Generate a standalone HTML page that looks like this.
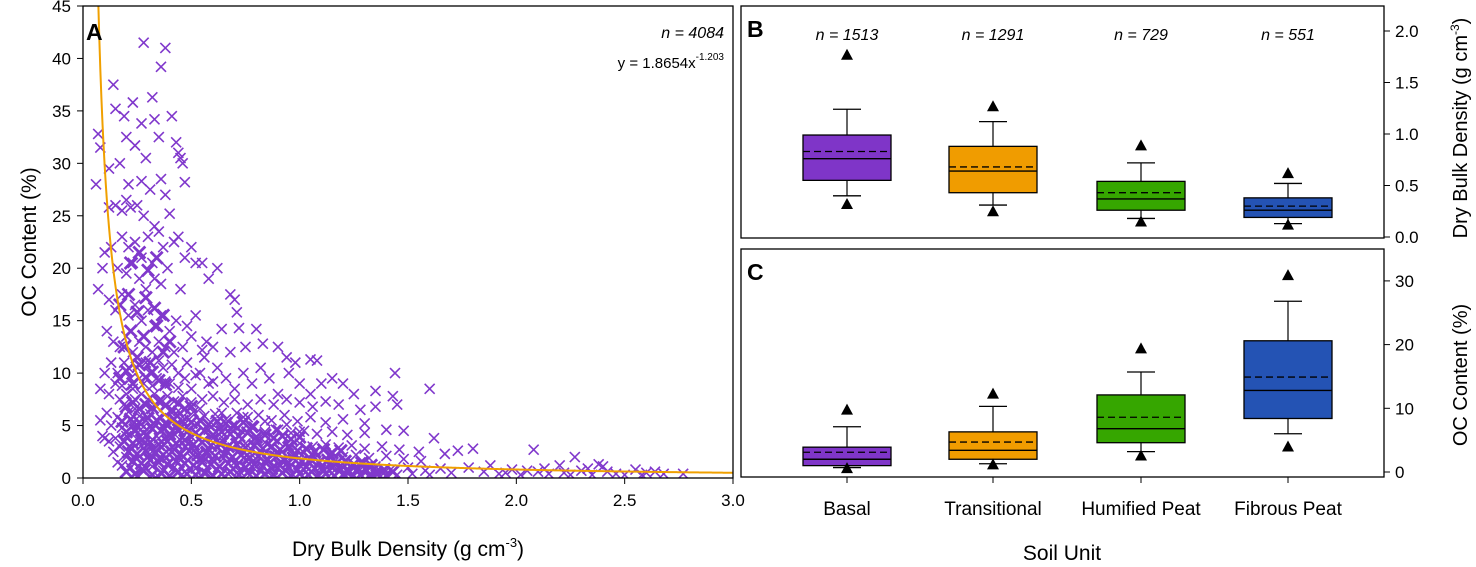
<!DOCTYPE html>
<html><head><meta charset="utf-8"><style>
html,body{margin:0;padding:0;background:#fff;}
svg{display:block;font-family:"Liberation Sans",Arial,sans-serif;}
</style></head><body>
<svg id="fig" width="1476" height="567" viewBox="0 0 1476 567" xmlns="http://www.w3.org/2000/svg"></svg>
<script>
// ---- Panel A data ----
const bdVals=[0.28,0.38,0.36,0.32,0.14,0.23,0.15,0.19,0.33,0.41,0.27,0.07,0.08,0.2,0.35,0.43,0.45,0.46,0.44,0.24,0.29,0.17,0.06,0.21,0.27,0.31,0.36,0.47,0.12,0.38,
0.12,0.15,0.18,0.2,0.22,0.25,0.28,0.33,0.35,0.4,0.42,0.44,0.5,0.55,0.62,0.1,0.13,0.18,0.21,0.24,0.27,0.3,0.32,0.37,0.39,0.16,0.2,0.23,0.26,0.29,0.33,0.36,0.45,0.52,0.58,0.68,0.7,0.07,0.09,0.47,
0.12,0.15,0.18,0.21,0.24,0.27,0.3,0.33,0.36,0.4,0.43,0.48,0.52,0.57,0.6,0.64,0.72,0.8,0.71,0.11,0.14,0.17,0.2,0.23,0.26,0.29,0.32,0.35,0.38,0.42,0.46,0.5,0.55,0.68,0.75,0.83,0.9,0.94,0.98,1.05,1.08,
0.1,0.13,0.16,0.19,0.22,0.25,0.28,0.31,0.34,0.37,0.4,0.44,0.47,0.5,0.54,0.58,0.62,0.66,0.7,0.74,0.78,0.82,0.86,0.9,0.95,1.0,1.05,1.1,1.15,1.2,1.25,1.35,1.43,1.45,1.44,1.6,
0.08,0.12,0.17,0.2,0.24,0.27,0.3,0.33,0.36,0.39,0.42,0.46,0.5,0.55,0.6,0.65,0.7,0.76,0.82,0.88,0.94,1.0,1.06,1.12,1.18,1.28,1.35,
0.15,0.18,0.21,0.23,0.26,0.29,0.32,0.35,0.38,0.41,0.44,0.48,0.52,0.56,0.6,
0.11,0.16,0.21,0.26,0.31,0.36,0.41,0.46,0.51,0.56,0.61,0.66,0.71,0.76,0.81,0.87,0.93,0.99,1.05,1.12,1.2,1.3,
0.13,0.18,0.23,0.28,0.33,0.38,0.43,0.48,0.53,0.58,0.63,0.68,0.73,0.78,0.84,0.9,0.96,1.02,1.08,1.15,1.22,1.3,1.4,1.48,
0.15,0.2,0.25,0.3,0.35,0.4,0.45,0.5,0.55,0.6,0.65,0.7,0.75,0.8,0.85,0.9,0.95,1.0,1.06,1.12,1.18,1.24,1.3,1.38,1.46,1.55,
0.17,0.22,0.27,0.32,0.37,0.42,0.47,0.52,0.57,0.62,0.67,0.72,0.77,0.82,0.87,0.92,0.97,1.02,1.08,1.14,1.2,1.26,1.32,1.4,1.48,1.56,
0.2,0.25,0.3,0.35,0.4,0.45,0.5,0.55,0.6,0.65,0.7,0.75,0.8,0.85,0.9,0.95,1.0,1.05,1.1,1.15,1.2,1.25,1.3,1.35,1.42,1.5,1.58,1.65,
0.22,0.27,0.32,0.37,0.42,0.47,0.52,0.57,0.62,0.67,0.72,0.77,0.82,0.87,0.92,0.97,1.03,1.09,1.15,1.21,1.27,1.33,1.39,1.45,1.52,1.6,1.7,
0.08,0.09,0.1,0.12,0.14,0.16,0.18,0.25,0.35,0.45,0.55,0.65,
0.24,0.29,0.34,0.39,0.44,0.49,0.54,0.59,0.64,0.69,0.74,0.79,0.84,0.89,0.94,0.99,1.04,1.1,1.16,1.22,1.28,1.34,
0.19,0.24,0.29,0.34,0.39,0.44,0.49,0.54,0.59,0.64,0.69,0.74,0.79,0.84,0.89,0.94,1.0,
1.62,1.67,1.73,1.8,1.78,1.85,1.92,1.98,2.02,2.08,2.1,2.15,2.2,2.22,2.27,2.3,2.35,2.38,2.42,2.46,2.5,2.55,2.6,2.64,2.68,2.77,1.88,1.95,2.05,2.13,2.25,2.33,2.4,2.58];
const ocVals=[41.5,41,39.2,36.3,37.5,35.8,35.2,34.5,34.2,34.5,33.8,32.8,31.5,32.5,32.5,32,30.5,30,31,31.7,30.5,30,28,28,28.3,27.5,28.5,28.2,29.5,27,
25.8,26,25.5,26.5,25.8,26,25,24,23.5,25.2,22.5,23,22,20.5,20,21.5,22,23,22,22.5,21,23,20.5,22,20,20,19.5,20.5,19,18,19,18.5,18,20.5,19,17.5,17,18,20,21,
17,16,17.5,15.5,16.5,15,16,14.5,15.5,14,15,14.5,15.5,13,12.5,14.2,14.3,14.2,15.8,14,13,12.5,13.5,12,13,12.5,12,13,12.5,12,12.5,13.5,12.2,12,12.5,12.8,12.5,11.5,11,11.3,11.2,
10,11,10,11,9.5,10.5,9,10,9.5,10.5,9,10,9.5,8.5,10,9,10.5,9.5,8.5,10,9,10.5,9.5,8,10,9,8,9,9.5,9,8,8.3,7.8,7,10,8.5,
8.5,8,7.5,8,7.5,8,7.5,8,7.5,7.8,7.3,7.8,7.2,7.5,7.8,7.2,7.5,7,7.5,7,7.5,7.2,6.8,7.3,7,6.5,6.8,
9,8.8,10.5,8.5,9.5,11,8.8,11.2,9.2,10.8,8.6,11,9.8,11.5,9.2,
6.2,5.8,6.3,5.9,6.1,5.7,6.2,5.8,6.3,5.9,6.1,5.6,6.2,5.8,6,5.5,6,5.4,5.8,5.3,5.6,5.2,
5,4.8,5.1,4.9,5.2,4.7,5,4.8,5.1,4.6,4.9,4.7,4.5,4.8,4.4,4.6,4.3,4.5,4.2,4.4,4.1,4.3,4.6,4.5,
3.8,4,3.7,4.1,3.8,4,3.6,3.9,3.5,3.8,3.4,3.7,3.3,3.6,3.2,3.5,3.1,3.3,3,3.2,2.9,3.1,2.8,3,2.7,2.5,
3,2.8,3.1,2.9,3.2,2.7,3,2.8,2.6,2.9,2.5,2.7,2.4,2.6,2.3,2.5,2.2,2.4,2.1,2.3,2,2.2,1.9,2.1,1.8,1.6,
2,1.8,2.1,1.9,2.2,1.7,2,1.8,1.6,1.9,1.5,1.7,1.4,1.6,1.3,1.5,1.2,1.4,1.1,1.3,1,1.2,0.9,1.1,0.8,1,0.7,0.9,
1,0.8,1.1,0.7,1,0.6,0.9,0.5,0.8,0.4,0.7,0.3,0.6,0.2,0.5,0.3,0.6,0.2,0.5,0.3,0.6,0.2,0.5,0.3,0.4,0.3,0.5,
5.5,4,3.8,3.5,2.5,1.5,1.2,0.2,0.1,0.2,0.1,0.1,
4.4,3.4,2.4,1.4,4.4,3.3,2.3,1.3,3.9,2.9,1.9,0.9,3.4,2.4,1.4,2.6,1.6,0.8,1.8,0.9,1.5,0.7,
7,6.6,5.5,6.8,5.2,6.4,5.6,6.6,5.3,6.2,5.0,5.8,4.9,5.4,4.6,5.1,4.4,
3.8,2.3,2.6,2.8,1,0.6,0.4,0.8,0.3,2.7,0.6,0.4,1.2,0.5,2,0.7,0.3,1.3,0.6,0.4,0.3,0.8,0.5,0.6,0.4,0.4,1.2,0.5,0.7,0.9,0.3,0.9,1.1,0.3];
// dense core of the cloud
const bdCore=[0.18,0.22,0.26,0.3,0.34,0.38,0.42,0.46,0.5,0.54,0.58,0.62,0.66,0.7,0.74,0.78,
0.2,0.24,0.28,0.32,0.36,0.4,0.44,0.48,0.52,0.56,0.6,0.64,0.68,0.72,0.76,0.8,0.84,0.88,0.92,0.96,1.0,
0.19,0.23,0.27,0.31,0.35,0.39,0.43,0.47,0.51,0.55,0.59,0.63,0.67,0.71,0.75,0.79,0.83,0.87,0.91,0.95,0.99,1.03,1.07,1.11,1.15,1.19,
0.21,0.25,0.29,0.33,0.37,0.41,0.45,0.49,0.53,0.57,0.61,0.65,0.69,0.73,0.77,0.81,0.85,0.89,0.93,0.97,1.01,1.05,1.09,1.13,1.17,1.21,1.25,1.29,1.33,
0.23,0.27,0.31,0.35,0.39,0.43,0.47,0.51,0.55,0.59,0.63,0.67,0.71,0.75,0.79,0.83,0.87,0.91,0.95,0.99,1.03,1.07,1.11,1.15,1.19,1.23,1.27,1.31,1.35,1.39,1.43,
0.2,0.24,0.28,0.32,0.36,0.4,0.44,0.48,0.52,0.56,0.6,0.64,0.68,0.72,0.76,0.8,0.84,0.88,0.92,0.96,1.0,1.04,1.08,1.12,1.16,1.2,1.24,1.28,1.32,1.36,1.4,
0.2,0.23,0.26,0.29,0.32,0.35,0.38,0.41,0.44,0.47,0.5,
0.19,0.22,0.25,0.28,0.31,0.34,0.37,0.4,
0.17,0.2,0.23,0.26,0.29,0.32,0.35,0.38,0.17,0.21,0.25,0.29,0.33,0.37,0.22,0.26,0.3,0.34];
const ocCore=[5.4,5.6,5.3,5.7,5.5,5.2,5.6,5.4,5.3,5.5,5.1,5.4,5.2,5.0,5.3,4.9,
4.4,4.6,4.3,4.7,4.5,4.2,4.6,4.4,4.3,4.5,4.1,4.4,4.2,4.0,4.3,3.9,4.1,3.8,4.0,3.7,3.9,
3.5,3.3,3.6,3.4,3.2,3.5,3.3,3.6,3.2,3.4,3.1,3.3,3.0,3.2,2.9,3.1,2.8,3.0,2.7,2.9,2.6,2.8,2.5,2.7,2.4,2.6,
2.5,2.3,2.6,2.4,2.2,2.5,2.3,2.6,2.2,2.4,2.1,2.3,2.0,2.2,1.9,2.1,1.8,2.0,1.7,1.9,1.6,1.8,1.5,1.7,1.4,1.6,1.3,1.5,1.2,
1.6,1.4,1.7,1.5,1.3,1.6,1.4,1.2,1.5,1.3,1.1,1.4,1.2,1.0,1.3,1.1,0.9,1.2,1.0,0.8,1.1,0.9,0.7,1.0,0.8,0.6,0.9,0.7,0.5,0.8,0.6,
0.6,0.4,0.7,0.3,0.5,0.2,0.6,0.4,0.3,0.5,0.2,0.4,0.6,0.3,0.5,0.2,0.4,0.3,0.5,0.2,0.4,0.3,0.1,0.4,0.2,0.3,0.1,0.3,0.2,0.4,0.2,
6.8,7.2,6.6,7.0,6.7,7.3,6.9,6.5,7.1,6.6,6.8,
12.5,14,11.5,13.5,11,14.5,12,13,
9.5,10.2,9.0,10.8,9.6,10.1,9.3,8.9,16.5,17.5,15.8,17.2,16.2,15.5,20.5,21.5,19.8,21];
const fitA=1.8654, fitB=-1.203;
const xTicksA=[0,0.5,1,1.5,2,2.5,3], xTickLabelsA=["0.0","0.5","1.0","1.5","2.0","2.5","3.0"];
const yTicksA=[0,5,10,15,20,25,30,35,40,45];
// ---- Panels B/C data ----
const units=["Basal","Transitional","Humified Peat","Fibrous Peat"];
const unitN=["n = 1513","n = 1291","n = 729","n = 551"];
const unitColors=["#7f35c8","#f09c00","#36a600","#2453b4"];
const bdWhiskLo=[0.40,0.31,0.18,0.13], bdQ1=[0.55,0.43,0.26,0.19], bdMed=[0.76,0.64,0.37,0.26], bdMean=[0.83,0.68,0.43,0.30], bdQ3=[0.99,0.88,0.54,0.38], bdWhiskHi=[1.24,1.12,0.72,0.52], bdOutLo=[0.32,0.25,0.15,0.12], bdOutHi=[1.77,1.27,0.89,0.62];
const ocWhiskLo=[0.7,1.3,3.2,6.0], ocQ1=[1.0,2.0,4.6,8.4], ocMed=[2.0,3.4,6.8,12.8], ocMean=[3.1,4.7,8.6,14.9], ocQ3=[3.9,6.3,12.1,20.6], ocWhiskHi=[7.1,10.3,15.7,26.8], ocOutLo=[0.6,1.2,2.6,4.0], ocOutHi=[9.8,12.3,19.4,30.9];
const yTicksB=[0,0.5,1,1.5,2], yTickLabelsB=["0.0","0.5","1.0","1.5","2.0"];
const yTicksC=[0,10,20,30];

const NS="http://www.w3.org/2000/svg", svg=document.getElementById('fig');
function mk(tag,attrs,parent){const e=document.createElementNS(NS,tag);for(const k in attrs)e.setAttribute(k,attrs[k]);(parent||svg).appendChild(e);return e;}
function txt(s,attrs,parent){const e=mk('text',attrs,parent);e.textContent=s;return e;}

// Panel A scales
const AX0=83,AX1=733,AY0=478,AY1=6;
const xA=v=>AX0+v/3*(AX1-AX0), yA=v=>AY0-v/45*(AY0-AY1);
const gA=mk('g',{});


const clip=mk('clipPath',{id:'clipA'});mk('rect',{x:AX0,y:AY1,width:AX1-AX0,height:AY0-AY1},clip);
const pts=mk('g',{'clip-path':'url(#clipA)',stroke:'#8038cc',fill:'none'},gA);


function drawPts(bx,oy,r,sw){
  for(let i=0;i<bx.length;i++){
    const cx=xA(bx[i]),cy=yA(oy[i]);
    const p=mk('path',{d:`M${cx-r},${cy-r}L${cx+r},${cy+r}M${cx-r},${cy+r}L${cx+r},${cy-r}`,'stroke-width':sw},pts);
    
    
  }
}
drawPts(bdVals,ocVals,5,1.6);
drawPts(bdCore,ocCore,6,2.8);
let d='';for(let x=0.055;x<=3.0001;x+=0.005){const y=fitA*Math.pow(x,fitB);d+=(d?'L':'M')+xA(x).toFixed(2)+','+yA(y).toFixed(2);}
const fit=mk('path',{d:d,stroke:'#f0a000','stroke-width':'2',fill:'none','clip-path':'url(#clipA)'},gA);


const frA=mk('rect',{x:AX0,y:AY1,width:AX1-AX0,height:AY0-AY1,fill:'none',stroke:'#000','stroke-width':'1.3'},gA);


xTicksA.forEach((v,i)=>{const x=xA(v);mk('line',{x1:x,x2:x,y1:AY0,y2:AY0+6,stroke:'#000'},gA);
  const t=txt(xTickLabelsA[i],{x:x,y:AY0+28,'font-size':'17','text-anchor':'middle'},gA);
  });
yTicksA.forEach(v=>{const y=yA(v);mk('line',{x1:AX0-6,x2:AX0,y1:y,y2:y,stroke:'#000'},gA);
  const t=txt(String(v),{x:AX0-12,y:y+6,'font-size':'17','text-anchor':'end'},gA);
  });
const xt=txt('',{x:408,y:556,'font-size':'21','text-anchor':'middle'},gA);
xt.innerHTML='Dry Bulk Density (g cm<tspan font-size="13" dy="-9">-3</tspan><tspan dy="9">)</tspan>';

const yt=txt('OC Content (%)',{x:0,y:0,'font-size':'21','text-anchor':'middle',transform:'translate(36,242) rotate(-90)'},gA);

const la=txt('A',{x:86,y:40,'font-size':'23','font-weight':'bold'},gA);

const na=txt('n = 4084',{x:724,y:38,'font-size':'16','font-style':'italic','text-anchor':'end'},gA);

const eq=txt('',{x:724,y:68,'font-size':'15','text-anchor':'end'},gA);
eq.innerHTML='y = 1.8654x<tspan font-size="10" dy="-8">-1.203</tspan>';


// Box panels
const BX0=741,BX1=1384, catX=[847,993,1141,1288], BW=88;
function boxPanel(name,top,bottom,y0,ySc,ticks,labels,lo,q1,med,mean,q3,hi,olo,ohi){
  const g=mk('g',{});
  
  
  const y=v=>y0-v*ySc;
  units.forEach((u,i)=>{
    const cx=catX[i];
    mk('line',{x1:cx,x2:cx,y1:y(hi[i]),y2:y(q3[i]),stroke:'#000','stroke-width':'1.2'},g);
    mk('line',{x1:cx,x2:cx,y1:y(q1[i]),y2:y(lo[i]),stroke:'#000','stroke-width':'1.2'},g);
    mk('line',{x1:cx-14,x2:cx+14,y1:y(hi[i]),y2:y(hi[i]),stroke:'#000','stroke-width':'1.3'},g);
    mk('line',{x1:cx-14,x2:cx+14,y1:y(lo[i]),y2:y(lo[i]),stroke:'#000','stroke-width':'1.3'},g);
    const b=mk('rect',{x:cx-BW/2,y:y(q3[i]),width:BW,height:y(q1[i])-y(q3[i]),fill:unitColors[i],stroke:'#000','stroke-width':'1.3'},g);
    
    
    mk('line',{x1:cx-BW/2,x2:cx+BW/2,y1:y(med[i]),y2:y(med[i]),stroke:'#000','stroke-width':'1.4'},g);
    mk('line',{x1:cx-BW/2,x2:cx+BW/2,y1:y(mean[i]),y2:y(mean[i]),stroke:'#000','stroke-width':'1.3','stroke-dasharray':'7,4'},g);
    [olo[i],ohi[i]].forEach(v=>{const yy=y(v);const o=mk('path',{d:`M${cx-6},${yy+5}L${cx+6},${yy+5}L${cx},${yy-6}Z`,fill:'#000'},g);
      });
  });
  const fr=mk('rect',{x:BX0,y:top,width:BX1-BX0,height:bottom-top,fill:'none',stroke:'#000','stroke-width':'1.3'},g);
  
  ticks.forEach((v,i)=>{const yy=y(v);mk('line',{x1:BX1,x2:BX1+6,y1:yy,y2:yy,stroke:'#000'},g);
    const t=txt(labels[i],{x:BX1+11,y:yy+6,'font-size':'17'},g);
    });
  return g;
}
const gB=boxPanel('panel-b-bulk-density',6,238,237,103,yTicksB,yTickLabelsB,bdWhiskLo,bdQ1,bdMed,bdMean,bdQ3,bdWhiskHi,bdOutLo,bdOutHi);
const gC=boxPanel('panel-c-oc-content',249,477,472,6.37,yTicksC,yTicksC.map(String),ocWhiskLo,ocQ1,ocMed,ocMean,ocQ3,ocWhiskHi,ocOutLo,ocOutHi);
units.forEach((u,i)=>{
  const n=txt(unitN[i],{x:catX[i],y:40,'font-size':'16','font-style':'italic','text-anchor':'middle'},gB);
  
  mk('line',{x1:catX[i],x2:catX[i],y1:477,y2:483,stroke:'#000'},gC);
  const t=txt(u,{x:catX[i],y:515,'font-size':'19','text-anchor':'middle'},gC);
  
});
const lb=txt('B',{x:747,y:37,'font-size':'23','font-weight':'bold'},gB);

const lc=txt('C',{x:747,y:280,'font-size':'23','font-weight':'bold'},gC);

const st=txt('Soil Unit',{x:1062,y:560,'font-size':'21','text-anchor':'middle'});

const ybt=txt('',{x:0,y:0,'font-size':'20','text-anchor':'middle',transform:'translate(1467,128) rotate(-90)'},gB);
ybt.innerHTML='Dry Bulk Density (g cm<tspan font-size="12" dy="-8">-3</tspan><tspan dy="8">)</tspan>';

const yct=txt('OC Content (%)',{x:0,y:0,'font-size':'20','text-anchor':'middle',transform:'translate(1467,375) rotate(-90)'},gC);

</script>
</body></html>
